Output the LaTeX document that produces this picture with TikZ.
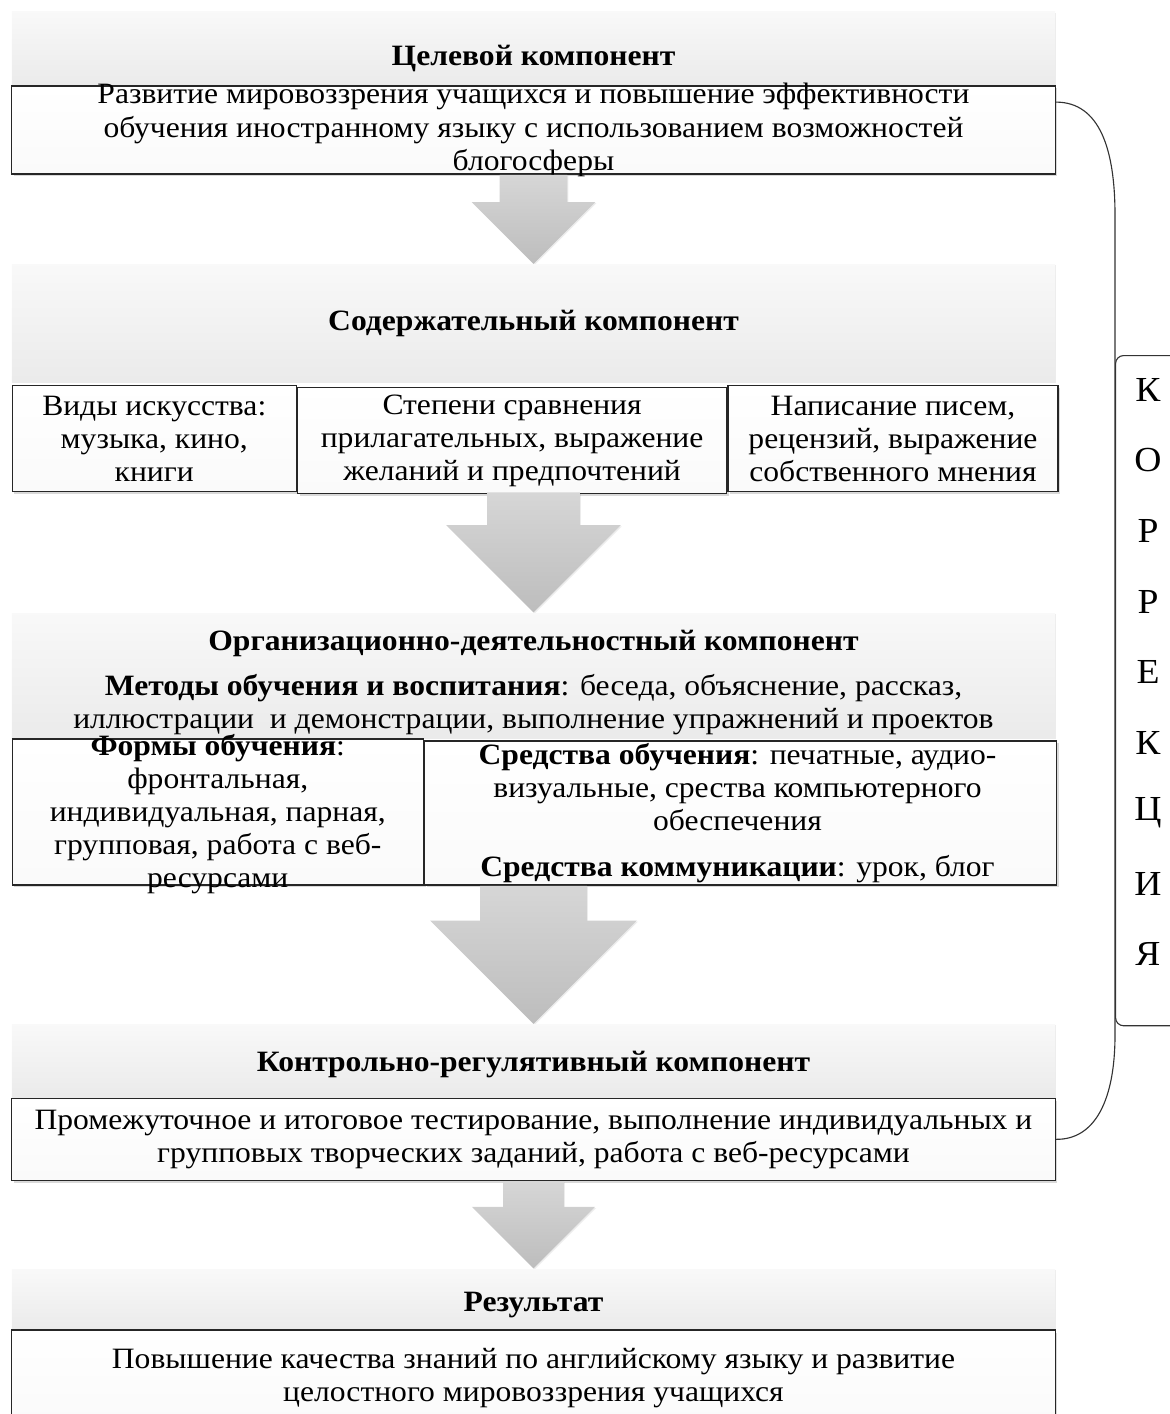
\documentclass[tikz,border=0pt]{standalone}
\usepackage{fontspec}
\setmainfont[FakeStretch=1.07]{Liberation Serif}
\usepackage{tikz}
\usetikzlibrary{positioning,shapes.arrows,shadows}

\begin{document}
\begin{tikzpicture}[x=0.025cm, y=-0.025cm, node distance=0pt]

	\tikzset{
		hdr/.style = {rectangle, minimum width=26.075cm, inner sep=0pt,
			top color=gray!5, bottom color=gray!16,
			drop shadow={shadow xshift=0.6pt, shadow yshift=-0.6pt, opacity=0.15}},
		tbox/.style = {rectangle, draw=black!85, line width=0.9pt, inner sep=0pt,
			top color=white, bottom color=gray!4,
			drop shadow={shadow xshift=1.6pt, shadow yshift=-1.8pt, opacity=0.3}},
		darrow/.style = {single arrow, shape border rotate=270, inner ysep=0pt,
			single arrow head indent=0pt, top color=gray!32, bottom color=gray!52,
			drop shadow={shadow xshift=0.8pt, shadow yshift=-0.8pt, opacity=0.15}},
		txt/.style = {align=center, inner sep=0pt, font=\fontsize{21}{23.5}\selectfont},
		ttl/.style = {txt, font=\fontsize{21}{23.5}\selectfont\bfseries}
	}

	\useasboundingbox (0,0) rectangle (1170,1414);

	% target component
	\node[hdr, minimum height=1.825cm] (h1) at (533.5,48.5) {};
	\node[tbox, minimum width=26.075cm, minimum height=2.2cm, below=of h1] (b1) {};
	\node[ttl] (t1) at ([yshift=-0.25cm]h1.center) {Целевой компонент};
	\node[txt] (b1t) at (b1) {Развитие мировоззрения учащихся и повышение эффективности\\
		обучения иностранному языку с использованием возможностей\\ блогосферы};

	\node[darrow, inner xsep=0.8375cm, minimum height=2.225cm, minimum width=3.075cm,
		single arrow head extend=0.7cm, anchor=tail] (a1) at (b1.south) {};

	% content component
	\node[hdr, minimum height=2.95cm, below=of a1.tip] (h2) {};
	\node[ttl] (t2) at (h2) {Содержательный компонент};
	\node[tbox, minimum width=7.1cm, minimum height=2.65cm, anchor=north west] (c1)
		at ([yshift=-0.05cm]h2.south west) {};
	\node[tbox, minimum width=10.725cm, minimum height=2.65cm, right=of c1, yshift=-0.05cm] (c2) {};
	\node[tbox, minimum width=8.25cm, minimum height=2.65cm, right=of c2, yshift=0.05cm] (c3) {};
	\node[txt] (c1t) at (c1) {Виды искусства:\\ музыка, кино,\\ книги};
	\node[txt] (c2t) at (c2) {Степени сравнения\\ прилагательных, выражение\\ желаний и предпочтений};
	\node[txt] (c3t) at (c3) {Написание писем,\\ рецензий, выражение\\ собственного мнения};

	\node[darrow, inner xsep=1.15cm, minimum height=3.0cm, minimum width=4.35cm,
		single arrow head extend=1.025cm, anchor=tail] (a2) at (c1.south -| h2) {};

	% organisation component
	\node[hdr, minimum height=3.12cm, below=of a2.tip] (h3) {};
	\node[ttl] (t3) at ([yshift=0.8cm]h3.center) {Организационно-деятельностный компонент};
	\node[txt] (m3) at ([yshift=-0.72cm]h3.center) {\textbf{Методы обучения и воспитания}: беседа, объяснение, рассказ,\\
		иллюстрации\ \ и демонстрации, выполнение упражнений и проектов};
	\node[tbox, minimum width=10.275cm, minimum height=3.65cm, anchor=north west] (d1) at (h3.south west) {};
	\node[tbox, minimum width=15.8cm, minimum height=3.6cm, anchor=south west] (d2) at (d1.south east) {};
	\node[txt] (d1t) at ([yshift=-0.05cm]d1.center) {\textbf{Формы обучения}:\\ фронтальная,\\ индивидуальная, парная,\\
		групповая, работа с веб-\\ ресурсами};
	\node[txt] (d2t) at ([xshift=-0.08cm]d2.center) {\textbf{Средства обучения}: печатные, аудио-\\
		визуальные, срества компьютерного\\ обеспечения\\[9pt] \textbf{Средства коммуникации}: урок, блог};

	\node[darrow, inner xsep=1.325cm, minimum height=3.45cm, minimum width=5.15cm,
		single arrow head extend=1.25cm, anchor=tail] (a3) at (d1.south -| h3) {};

	% control component
	\node[hdr, minimum height=1.82cm, below=of a3.tip] (h4) {};
	\node[tbox, minimum width=26.075cm, minimum height=2.05cm, below=of h4] (b4) {};
	\node[ttl] (t4) at ([yshift=-0.08cm]h4.center) {Контрольно-регулятивный компонент};
	\node[txt] (b4t) at (b4) {Промежуточное и итоговое тестирование, выполнение индивидуальных и\\
		групповых творческих заданий, работа с веб-ресурсами};

	\node[darrow, inner xsep=0.75cm, minimum height=2.18cm, minimum width=3.075cm,
		single arrow head extend=0.78cm, anchor=tail] (a4) at (b4.south) {};

	% result
	\node[hdr, minimum height=1.5cm, below=of a4.tip] (h5) {};
	\node[tbox, minimum width=26.075cm, minimum height=2.3cm, below=of h5] (b5) {};
	\node[ttl] (t5) at ([yshift=-0.15cm]h5.center) {Результат};
	\node[txt] (b5t) at ([yshift=-0.05cm]b5.center) {Повышение качества знаний по английскому языку и развитие\\
		целостного мировоззрения учащихся};

	% correction
	\coordinate (br1) at ([yshift=-0.42cm]b1.north east);
	\draw[black!80, line width=0.8pt] (br1) .. controls (1100,102) and (1115,150) .. (1115,215)
		-- (1115,1035) .. controls (1115,1100) and (1095,1140) .. (b4.east);
	\node[rectangle, draw=black!80, line width=0.8pt, fill=white, rounded corners=0.2cm,
		minimum width=2.5cm, minimum height=16.75cm, anchor=north west] (kor) at (1115,355) {};
	\foreach \l [count=\i] in {К,О,Р,Р,Е,К,Ц,И,Я}
		\node[txt, font=\fontsize{25}{30}\selectfont] (k\i) at (1148,319.5+70.5*\i) {\l};

\end{tikzpicture}
\end{document}
